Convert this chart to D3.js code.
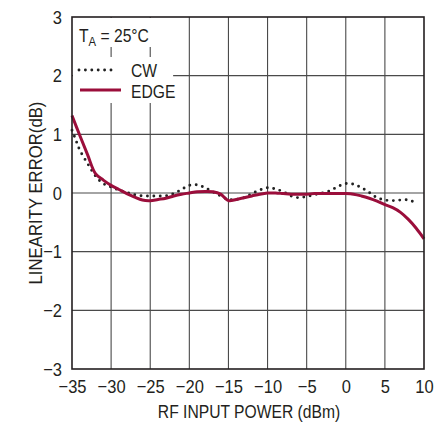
<!DOCTYPE html>
<html><head><meta charset="utf-8">
<script src="https://cdn.jsdelivr.net/npm/d3@7"></script>
<style>
html,body{margin:0;padding:0;background:#fff;}
svg text{font-family:"Liberation Sans",Arial,sans-serif;fill:#231f20;}
</style></head><body>
<svg id="c" width="445" height="423"></svg>
<script>
const xTicks = [-35,-30,-25,-20,-15,-10,-5,0,5,10];
const yTicks = [-3,-2,-1,0,1,2,3];
const edgeX = [-35,-34,-33,-32,-31,-30,-29,-28,-27,-26,-25,-24,-23,-22,-21,-20,-19,-18,-17,-16,-15,-14,-13,-12,-11,-10,-9,-8,-7,-6,-5,-4,-3,-2,-1,0,1,2,3,4,5,6,7,8,9,10];
const edgeY = [1.32,0.98,0.65,0.33,0.22,0.13,0.06,-0.01,-0.07,-0.12,-0.13,-0.11,-0.09,-0.05,-0.02,0.0,0.02,0.025,0.02,-0.02,-0.13,-0.11,-0.08,-0.05,-0.02,0.0,0.0,-0.01,-0.02,-0.02,-0.02,-0.01,-0.01,-0.01,-0.01,-0.01,-0.02,-0.05,-0.09,-0.14,-0.2,-0.25,-0.33,-0.45,-0.6,-0.78];
const cwX = [-35,-34.5,-34,-33,-32,-31,-30,-29,-28,-27,-26,-25,-24,-23,-22,-21,-20,-19,-18,-17,-16,-15,-14,-13,-12,-11,-10,-9,-8,-7,-6,-5,-4,-3,-2,-1,0,1,2,3,4,5,6,7,8,9];
const cwY = [1.07,0.9,0.73,0.5,0.29,0.16,0.1,0.05,0.01,-0.03,-0.05,-0.05,-0.05,-0.05,-0.01,0.06,0.13,0.14,0.09,0.02,-0.05,-0.11,-0.11,-0.08,-0.01,0.05,0.09,0.07,0.02,-0.05,-0.08,-0.06,-0.03,0.0,0.04,0.11,0.16,0.15,0.09,0.01,-0.08,-0.12,-0.13,-0.12,-0.12,-0.17];
const legendLabels = ["CW","EDGE"];
const tempLabel = ["T","A"," = 25°C"];
const xTitle = "RF INPUT POWER (dBm)";
const yTitle = "LINEARITY ERROR(dB)";
const edgeColor = "#9b0e3b";
const FS = 18, SX = 0.87, TFS = 19;

const svg = d3.select("#c");
const L=72, R=424, T=17, B=369;
const x = d3.scaleLinear().domain([-35,10]).range([L,R]);
const y = d3.scaleLinear().domain([-3,3]).range([B,T]);
const fmt = d => d<0 ? "\u2212"+Math.abs(d) : String(d);

function label(px, py, str, anchor, rot, sx) {
  const gg = svg.append("g").attr("transform", `translate(${px},${py})` + (rot ? ` rotate(${rot})` : ""));
  return gg.append("text").attr("transform", `scale(${sx||SX},1)`).attr("text-anchor", anchor||"start")
    .attr("font-size", FS).text(str);
}

// grid
const g = svg.append("g");
g.selectAll("line.vx").data(xTicks.slice(1,-1)).join("line")
  .attr("x1",d=>x(d)).attr("x2",d=>x(d)).attr("y1",T).attr("y2",B)
  .attr("stroke","#4a4a4a").attr("stroke-width",1.1);
g.selectAll("line.hy").data(yTicks.slice(1,-1)).join("line")
  .attr("x1",L).attr("x2",R).attr("y1",d=>y(d)).attr("y2",d=>y(d))
  .attr("stroke","#4a4a4a").attr("stroke-width",1.1);

// legend white backgrounds
svg.append("rect").attr("x",L+1).attr("y",T+1).attr("width",x(-21.3)-L).attr("height",29).attr("fill","#fff");
svg.append("rect").attr("x",L+1).attr("y",57).attr("width",x(-22.2)-L).attr("height",46).attr("fill","#fff");

// axes
const xAxis = d3.axisBottom(x).tickValues(xTicks).tickSize(0).tickPadding(10.5).tickFormat(fmt);
const ax = svg.append("g").attr("transform",`translate(0,${B})`).call(xAxis);
ax.select(".domain").remove();
ax.selectAll("text").attr("font-size",TFS).attr("font-family",null).attr("fill",null).attr("transform",`scale(${SX},1)`);
const yAxis = d3.axisLeft(y).tickValues(yTicks).tickSize(0).tickPadding(11.5).tickFormat(fmt);
const ay = svg.append("g").attr("transform",`translate(${L},0)`).call(yAxis);
ay.select(".domain").remove();
ay.selectAll("text").attr("font-size",TFS).attr("font-family",null).attr("fill",null).attr("transform",`scale(${SX},1)`);

// curves
const line = d3.line().x(d=>x(d[0])).y(d=>y(d[1])).curve(d3.curveCatmullRom.alpha(0.5));
svg.append("path").datum(cwX.map((v,i)=>[v,cwY[i]]))
  .attr("d",line).attr("fill","none").attr("stroke","#222")
  .attr("stroke-width",2.9).attr("stroke-linecap","round").attr("stroke-dasharray","0,6.4");
svg.append("path").datum(edgeX.map((v,i)=>[v,edgeY[i]]))
  .attr("d",line).attr("fill","none").attr("stroke",edgeColor)
  .attr("stroke-width",3).attr("stroke-linejoin","round");

// frame
svg.append("rect").attr("x",L).attr("y",T).attr("width",R-L).attr("height",B-T)
  .attr("fill","none").attr("stroke","#231f20").attr("stroke-width",1.6);

// legend
const tl = label(79, 42, "", "start");
tl.append("tspan").text(tempLabel[0]);
tl.append("tspan").attr("font-size",13).attr("dy",4).text(tempLabel[1]);
tl.append("tspan").attr("dy",-4).text(tempLabel[2]);
svg.append("line").attr("x1",79).attr("x2",116).attr("y1",70).attr("y2",70)
  .attr("stroke","#222").attr("stroke-width",2.9).attr("stroke-linecap","round").attr("stroke-dasharray","0,6.4");
svg.append("line").attr("x1",80).attr("x2",121).attr("y1",90).attr("y2",90)
  .attr("stroke",edgeColor).attr("stroke-width",3);
label(131, 77, legendLabels[0]);
label(131, 98, legendLabels[1]);

// titles
label((L+R)/2+1, 418, xTitle, "middle");
label(42, (T+B)/2, yTitle, "middle", -90, 0.93);
</script></body></html>
